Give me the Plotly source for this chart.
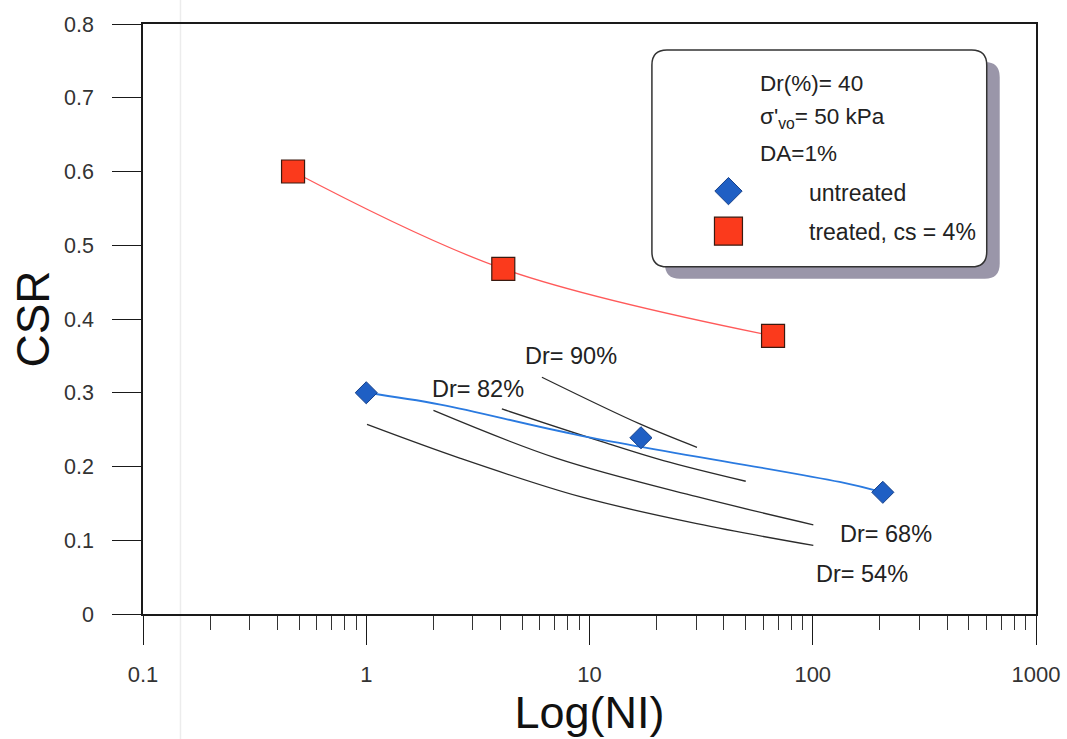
import math
import plotly.graph_objects as go

# ---------------- data ----------------
treated_N = [0.47, 4.11, 66.4]
treated_csr = [0.600, 0.468, 0.377]

untreated_N = [1.0, 17.0, 206.0]
untreated_csr = [0.300, 0.239, 0.165]

# trend line through the untreated results
untreated_fit_N = [1.0, 2.15, 9.1, 132.0, 206.0]
untreated_fit_csr = [0.300, 0.284, 0.242, 0.179, 0.165]

# reference curves for other relative densities
dr90_N = [6.12, 17.0, 30.3]
dr90_csr = [0.321, 0.257, 0.226]
dr82_N = [4.05, 11.55, 21.44, 50.1]
dr82_csr = [0.278, 0.233, 0.208, 0.180]
dr68_N = [2.0, 7.15, 30.26, 100.6]
dr68_csr = [0.276, 0.211, 0.159, 0.121]
dr54_N = [1.008, 2.64, 9.09, 30.26, 100.6]
dr54_csr = [0.257, 0.211, 0.159, 0.1225, 0.093]

dr_labels = ["Dr= 90%", "Dr= 82%", "Dr= 68%", "Dr= 54%"]
dr_label_N = [8.28, 3.18, 212.0, 166.0]
dr_label_csr = [0.350, 0.305, 0.108, 0.054]

x_tick_vals = [0.1, 1, 10, 100, 1000]
x_tick_text = ["0.1", "1", "10", "100", "1000"]
x_minor_vals = [m * d for d in [0.1, 1, 10, 100] for m in range(2, 10)]

info_lines = ["Dr(%)= 40", "σ'<sub>vo</sub>= 50 kPa", "DA=1%"]
legend_names = ["untreated", "treated, cs = 4%"]

# ---------------- layout geometry ----------------
W, H = 1067, 739
PX0, PX1 = 142.5, 1036.0
PY_TOP, PY_BOT = 24.0, 613.6
FONT = "Arial, Liberation Sans, sans-serif"

def px(x):
    return (x - PX0) / (PX1 - PX0)

def py(y):
    return (PY_BOT - y) / (PY_BOT - PY_TOP)

RED = "#fb3a1c"
BLUE = "#1f5fc4"

fig = go.Figure()

curves = [(dr90_N, dr90_csr), (dr82_N, dr82_csr), (dr68_N, dr68_csr), (dr54_N, dr54_csr)]
for (xs, ys), name in zip(curves, dr_labels):
    fig.add_trace(go.Scatter(x=xs, y=ys, mode="lines", name=name, showlegend=False,
                             line=dict(color="#2b2b2b", width=1.3, shape="spline", smoothing=1.0),
                             hoverinfo="skip"))

fig.add_trace(go.Scatter(x=untreated_fit_N, y=untreated_fit_csr, mode="lines", showlegend=False,
                         name="untreated trend",
                         line=dict(color="#2a7ae0", width=1.8, shape="spline", smoothing=1.0),
                         hoverinfo="skip"))
fig.add_trace(go.Scatter(x=untreated_N, y=untreated_csr, mode="markers", name=legend_names[0],
                         showlegend=False,
                         marker=dict(symbol="diamond", size=17, color=BLUE,
                                     line=dict(color="#15408a", width=1))))
fig.add_trace(go.Scatter(x=treated_N, y=treated_csr, mode="lines+markers", name=legend_names[1],
                         showlegend=False,
                         line=dict(color="#ff5a5a", width=1.3, shape="spline", smoothing=1.0),
                         marker=dict(symbol="square", size=23, color=RED,
                                     line=dict(color="#3a1a10", width=1.2))))

# legend swatches on an overlay (paper-like) axis
fig.add_trace(go.Scatter(x=[px(728.3)], y=[py(191)], xaxis="x2", yaxis="y2", mode="markers",
                         name="untreated swatch", showlegend=False, hoverinfo="skip",
                         marker=dict(symbol="diamond", size=21, color=BLUE,
                                     line=dict(color="#15408a", width=1))))
fig.add_trace(go.Scatter(x=[px(728.3)], y=[py(231)], xaxis="x2", yaxis="y2", mode="markers",
                         name="treated swatch", showlegend=False, hoverinfo="skip",
                         marker=dict(symbol="square", size=28, color=RED,
                                     line=dict(color="#3a1a10", width=1.2))))

def rounded_path(x0, y0, x1, y1, r):
    # pixel coords (y down) -> paper path
    rx = r / (PX1 - PX0)
    ry = r / (PY_BOT - PY_TOP)
    a, b = px(x0), px(x1)
    top, bot = py(y0), py(y1)
    return (f"M {a+rx},{top} L {b-rx},{top} Q {b},{top} {b},{top-ry} "
            f"L {b},{bot+ry} Q {b},{bot} {b-rx},{bot} "
            f"L {a+rx},{bot} Q {a},{bot} {a},{bot+ry} "
            f"L {a},{top-ry} Q {a},{top} {a+rx},{top} Z")

shapes = [
    # faint scanner streak
    dict(type="line", xref="paper", yref="paper", x0=px(180), x1=px(180), y0=py(0), y1=py(739),
         line=dict(color="#ececec", width=1.5), layer="below"),
    # legend shadow
    dict(type="path", xref="paper", yref="paper", path=rounded_path(664.7, 62, 999.7, 278.7, 15),
         fillcolor="#9a96a9", line=dict(width=0), layer="below"),
    # legend box
    dict(type="path", xref="paper", yref="paper", path=rounded_path(651.7, 50, 986.7, 266.7, 15),
         fillcolor="white", line=dict(color="#333333", width=1.5), layer="below"),
]

annotations = []
for t, xv, yv in zip(dr_labels, dr_label_N, dr_label_csr):
    annotations.append(dict(x=math.log10(xv), y=yv, xref="x", yref="y", text=t, showarrow=False,
                            xanchor="center", yanchor="middle",
                            font=dict(family=FONT, size=23.5, color="#222")))

info_y = [83, 117.5, 153]
for t, yy in zip(info_lines, info_y):
    annotations.append(dict(x=px(757.5), y=py(yy), xref="paper", yref="paper", text=t,
                            showarrow=False, xanchor="left", yanchor="middle",
                            font=dict(family=FONT, size=22.5, color="#222")))
for t, yy in zip(legend_names, [193, 232]):
    annotations.append(dict(x=px(806.5), y=py(yy), xref="paper", yref="paper", text=t,
                            showarrow=False, xanchor="left", yanchor="middle",
                            font=dict(family=FONT, size=23, color="#222")))

fig.update_layout(
    width=W, height=H,
    margin=dict(l=PX0, r=W - PX1, t=PY_TOP, b=H - PY_BOT, autoexpand=False),
    paper_bgcolor="white", plot_bgcolor="white",
    font=dict(family=FONT, color="#222"),
    showlegend=False,
    shapes=shapes,
    annotations=annotations,
    xaxis=dict(type="log", range=[-1, 3], showgrid=False, zeroline=False,
               showline=True, linecolor="#1a1a1a", linewidth=1.5, mirror=True,
               tickmode="array", tickvals=x_tick_vals, ticktext=x_tick_text,
               ticks="outside", ticklen=29, tickwidth=1.2, tickcolor="#1a1a1a",
               ticklabelstandoff=11,
               tickfont=dict(family=FONT, size=22, color="#333"),
               minor=dict(tickmode="array", tickvals=x_minor_vals, ticks="outside",
                          ticklen=14, tickwidth=1.2, tickcolor="#333", showgrid=False),
               title=dict(text="Log(NI)", standoff=3,
                          font=dict(family=FONT, size=45, color="#111"))),
    yaxis=dict(range=[0, 0.8], dtick=0.1, tick0=0, showgrid=False, zeroline=False,
               showline=True, linecolor="#1a1a1a", linewidth=1.5, mirror=True,
               ticks="outside", ticklen=29, tickwidth=1.2, tickcolor="#1a1a1a",
               ticklabelstandoff=14,
               tickfont=dict(family=FONT, size=21.5, color="#333"),
               title=dict(text="CSR", standoff=0,
                          font=dict(family=FONT, size=46, color="#111"))),
    xaxis2=dict(overlaying="x", range=[0, 1], visible=False, fixedrange=True),
    yaxis2=dict(overlaying="y", range=[0, 1], visible=False, fixedrange=True),
)

fig.write_html("out.html")
